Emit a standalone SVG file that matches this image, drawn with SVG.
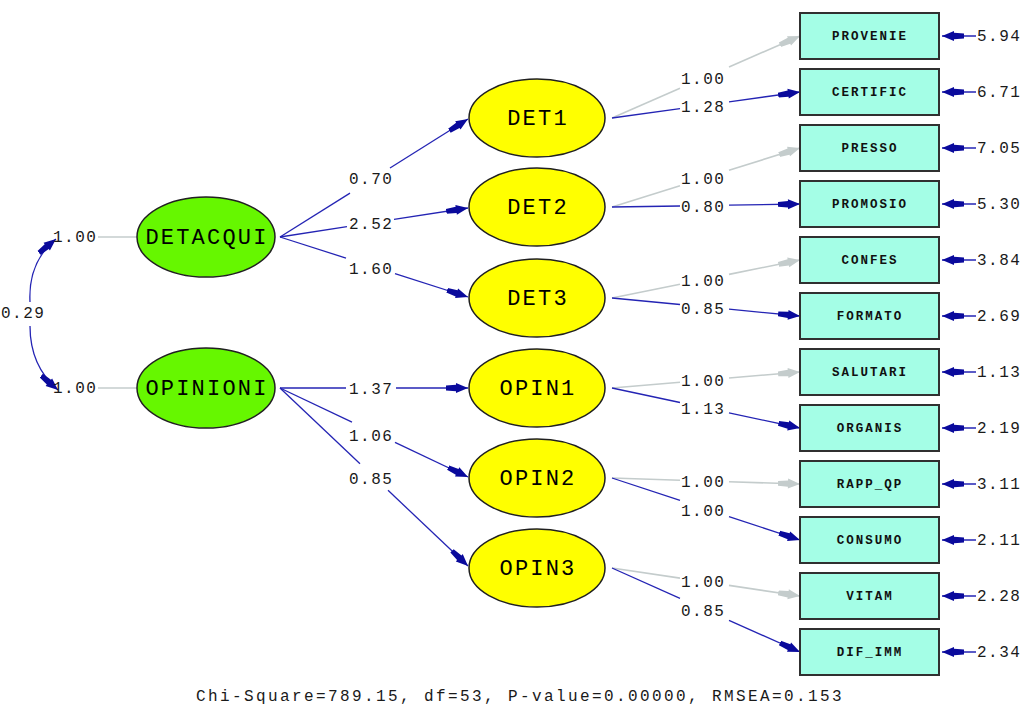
<svg xmlns="http://www.w3.org/2000/svg" width="1028" height="707" viewBox="0 0 1028 707">
  <defs>
    <style>
      .num { font-family: "Liberation Mono", "DejaVu Sans Mono", monospace; font-size: 16px; letter-spacing: 1.5px; fill: #1a1a1a; dominant-baseline: central; }
      .lat { font-family: "Liberation Mono", "DejaVu Sans Mono", monospace; font-size: 22px; letter-spacing: 2.2px; fill: #000; text-anchor: middle; dominant-baseline: central; }
      .obs { font-family: "Liberation Mono", "DejaVu Sans Mono", monospace; font-size: 12.5px; font-weight: bold; letter-spacing: 2px; fill: #101010; text-anchor: middle; dominant-baseline: central; }
      .ksi { fill: #66f700; stroke: #202020; stroke-width: 1.5; }
      .eta { fill: #ffff00; stroke: #202020; stroke-width: 1.5; }
      .box { fill: #a4fee6; stroke: #303030; stroke-width: 2; }
      .free { stroke: #2424b4; stroke-width: 1.3; fill: none; }
      .fixed { stroke: #c4cccc; stroke-width: 1.6; fill: none; }
    </style>
    <marker id="headBlue" markerUnits="userSpaceOnUse" markerWidth="22" markerHeight="12" viewBox="0 0 22 12" refX="22" refY="6" orient="auto-start-reverse">
      <path d="M0,3.6 L10,2.8 L10,1 L22,6 L10,11 L10,9.2 L0,8.4 Z" fill="#0a0a9c"/>
    </marker>
    <marker id="headGray" markerUnits="userSpaceOnUse" markerWidth="22" markerHeight="12" viewBox="0 0 22 12" refX="22" refY="6" orient="auto">
      <path d="M0,3.6 L10,2.8 L10,1 L22,6 L10,11 L10,9.2 L0,8.4 Z" fill="#c4cccc"/>
    </marker>
  </defs>

  <rect width="1028" height="707" fill="#ffffff"/>

  <!-- paths, covariance and parameter estimates -->
  <g id="connectors">
    <!-- covariance between the two exogenous factors -->
    <path class="free" d="M56,239 Q28,262 30,302" marker-start="url(#headBlue)"/>
    <path class="free" d="M30,326 Q30,366 58,390" marker-end="url(#headBlue)"/>
    <text class="num" x="1" y="314">0.29</text>

    <!-- fixed factor variances -->
    <line class="fixed" x1="98" y1="237" x2="137" y2="237"/>
    <line class="fixed" x1="98" y1="388" x2="137" y2="388"/>
    <text class="num" x="53" y="238">1.00</text>
    <text class="num" x="53" y="389">1.00</text>

    <!-- DETACQUI -> DET1..DET3 -->
    <line class="free" x1="280" y1="237" x2="350" y2="193.1"/>
    <line class="free" x1="390" y1="168" x2="468" y2="119" marker-end="url(#headBlue)"/>
    <line class="free" x1="280" y1="237" x2="347" y2="226.7"/>
    <line class="free" x1="394" y1="219.4" x2="468" y2="208" marker-end="url(#headBlue)"/>
    <line class="free" x1="280" y1="237" x2="346" y2="258.1"/>
    <line class="free" x1="395" y1="273.7" x2="468" y2="297" marker-end="url(#headBlue)"/>
    <text class="num" x="349" y="180">0.70</text>
    <text class="num" x="349" y="225">2.52</text>
    <text class="num" x="349" y="270">1.60</text>

    <!-- OPINIONI -> OPIN1..OPIN3 -->
    <line class="free" x1="280" y1="388" x2="346" y2="388"/>
    <line class="free" x1="396" y1="388" x2="468" y2="388" marker-end="url(#headBlue)"/>
    <line class="free" x1="280" y1="388" x2="352" y2="422.1"/>
    <line class="free" x1="395" y1="442.4" x2="468" y2="477" marker-end="url(#headBlue)"/>
    <line class="free" x1="280" y1="388" x2="360" y2="463.7"/>
    <line class="free" x1="388" y1="490.3" x2="468" y2="566" marker-end="url(#headBlue)"/>
    <text class="num" x="349" y="390">1.37</text>
    <text class="num" x="349" y="437">1.06</text>
    <text class="num" x="349" y="480">0.85</text>

    <!-- loadings on the indicators -->
    <line class="fixed" x1="612" y1="118" x2="680" y2="88.3"/>
    <line class="fixed" x1="729" y1="67" x2="800" y2="36" marker-end="url(#headGray)"/>
    <line class="free" x1="612" y1="118" x2="680" y2="108.6"/>
    <line class="free" x1="729" y1="101.8" x2="800" y2="92" marker-end="url(#headBlue)"/>
    <text class="num" x="681" y="80">1.00</text>
    <text class="num" x="681" y="108">1.28</text>

    <line class="fixed" x1="612" y1="207" x2="680" y2="185.7"/>
    <line class="fixed" x1="729" y1="170.3" x2="800" y2="148" marker-end="url(#headGray)"/>
    <line class="free" x1="612" y1="207" x2="680" y2="206"/>
    <line class="free" x1="729" y1="205.1" x2="800" y2="204" marker-end="url(#headBlue)"/>
    <text class="num" x="681" y="180">1.00</text>
    <text class="num" x="681" y="208">0.80</text>

    <line class="fixed" x1="612" y1="298" x2="680" y2="284.3"/>
    <line class="fixed" x1="729" y1="274.4" x2="800" y2="260" marker-end="url(#headGray)"/>
    <line class="free" x1="612" y1="298" x2="680" y2="304.5"/>
    <line class="free" x1="729" y1="309.2" x2="800" y2="316" marker-end="url(#headBlue)"/>
    <text class="num" x="681" y="282">1.00</text>
    <text class="num" x="681" y="310">0.85</text>

    <line class="fixed" x1="612" y1="388" x2="680" y2="382.2"/>
    <line class="fixed" x1="729" y1="378" x2="800" y2="372" marker-end="url(#headGray)"/>
    <line class="free" x1="612" y1="388" x2="680" y2="402.5"/>
    <line class="free" x1="729" y1="412.9" x2="800" y2="428" marker-end="url(#headBlue)"/>
    <text class="num" x="681" y="382">1.00</text>
    <text class="num" x="681" y="410">1.13</text>

    <line class="fixed" x1="612" y1="478" x2="680" y2="480.2"/>
    <line class="fixed" x1="729" y1="481.7" x2="800" y2="484" marker-end="url(#headGray)"/>
    <line class="free" x1="612" y1="478" x2="680" y2="500.4"/>
    <line class="free" x1="729" y1="516.6" x2="800" y2="540" marker-end="url(#headBlue)"/>
    <text class="num" x="681" y="483">1.00</text>
    <text class="num" x="681" y="512">1.00</text>

    <line class="fixed" x1="612" y1="568" x2="680" y2="578.1"/>
    <line class="fixed" x1="729" y1="585.4" x2="800" y2="596" marker-end="url(#headGray)"/>
    <line class="free" x1="612" y1="568" x2="680" y2="598.4"/>
    <line class="free" x1="729" y1="620.3" x2="800" y2="652" marker-end="url(#headBlue)"/>
    <text class="num" x="681" y="583">1.00</text>
    <text class="num" x="681" y="612">0.85</text>

    <!-- measurement error variances -->
    <g>
      <line class="free" x1="976" y1="36" x2="942" y2="36" marker-end="url(#headBlue)"/>
      <line class="free" x1="976" y1="92" x2="942" y2="92" marker-end="url(#headBlue)"/>
      <line class="free" x1="976" y1="148" x2="942" y2="148" marker-end="url(#headBlue)"/>
      <line class="free" x1="976" y1="204" x2="942" y2="204" marker-end="url(#headBlue)"/>
      <line class="free" x1="976" y1="260" x2="942" y2="260" marker-end="url(#headBlue)"/>
      <line class="free" x1="976" y1="316" x2="942" y2="316" marker-end="url(#headBlue)"/>
      <line class="free" x1="976" y1="372" x2="942" y2="372" marker-end="url(#headBlue)"/>
      <line class="free" x1="976" y1="428" x2="942" y2="428" marker-end="url(#headBlue)"/>
      <line class="free" x1="976" y1="484" x2="942" y2="484" marker-end="url(#headBlue)"/>
      <line class="free" x1="976" y1="540" x2="942" y2="540" marker-end="url(#headBlue)"/>
      <line class="free" x1="976" y1="596" x2="942" y2="596" marker-end="url(#headBlue)"/>
      <line class="free" x1="976" y1="652" x2="942" y2="652" marker-end="url(#headBlue)"/>
    </g>
    <text class="num" x="977" y="37">5.94</text>
    <text class="num" x="977" y="93">6.71</text>
    <text class="num" x="977" y="149">7.05</text>
    <text class="num" x="977" y="205">5.30</text>
    <text class="num" x="977" y="261">3.84</text>
    <text class="num" x="977" y="317">2.69</text>
    <text class="num" x="977" y="373">1.13</text>
    <text class="num" x="977" y="429">2.19</text>
    <text class="num" x="977" y="485">3.11</text>
    <text class="num" x="977" y="541">2.11</text>
    <text class="num" x="977" y="597">2.28</text>
    <text class="num" x="977" y="653">2.34</text>
  </g>

  <!-- exogenous latent factors -->
  <g id="DETACQUI"><ellipse class="ksi" cx="206" cy="237" rx="69" ry="40"/><text class="lat" x="207" y="238">DETACQUI</text></g>
  <g id="OPINIONI"><ellipse class="ksi" cx="206" cy="388" rx="69" ry="40"/><text class="lat" x="207" y="389">OPINIONI</text></g>

  <!-- endogenous latent factors -->
  <g id="DET1"><ellipse class="eta" cx="537" cy="118" rx="68" ry="39"/><text class="lat" x="538" y="119">DET1</text></g>
  <g id="DET2"><ellipse class="eta" cx="537" cy="207" rx="68" ry="39"/><text class="lat" x="538" y="208">DET2</text></g>
  <g id="DET3"><ellipse class="eta" cx="537" cy="298" rx="68" ry="39"/><text class="lat" x="538" y="299">DET3</text></g>
  <g id="OPIN1"><ellipse class="eta" cx="537" cy="388" rx="68" ry="39"/><text class="lat" x="538" y="389">OPIN1</text></g>
  <g id="OPIN2"><ellipse class="eta" cx="537" cy="478" rx="68" ry="39"/><text class="lat" x="538" y="479">OPIN2</text></g>
  <g id="OPIN3"><ellipse class="eta" cx="537" cy="568" rx="68" ry="39"/><text class="lat" x="538" y="569">OPIN3</text></g>

  <!-- observed indicators -->
  <g id="PROVENIE"><rect class="box" x="800" y="13" width="139" height="46"/><text class="obs" x="870" y="37">PROVENIE</text></g>
  <g id="CERTIFIC"><rect class="box" x="800" y="69" width="139" height="46"/><text class="obs" x="870" y="93">CERTIFIC</text></g>
  <g id="PRESSO"><rect class="box" x="800" y="125" width="139" height="46"/><text class="obs" x="870" y="149">PRESSO</text></g>
  <g id="PROMOSIO"><rect class="box" x="800" y="181" width="139" height="46"/><text class="obs" x="870" y="205">PROMOSIO</text></g>
  <g id="CONFES"><rect class="box" x="800" y="237" width="139" height="46"/><text class="obs" x="870" y="261">CONFES</text></g>
  <g id="FORMATO"><rect class="box" x="800" y="293" width="139" height="46"/><text class="obs" x="870" y="317">FORMATO</text></g>
  <g id="SALUTARI"><rect class="box" x="800" y="349" width="139" height="46"/><text class="obs" x="870" y="373">SALUTARI</text></g>
  <g id="ORGANIS"><rect class="box" x="800" y="405" width="139" height="46"/><text class="obs" x="870" y="429">ORGANIS</text></g>
  <g id="RAPP_QP"><rect class="box" x="800" y="461" width="139" height="46"/><text class="obs" x="870" y="485">RAPP_QP</text></g>
  <g id="CONSUMO"><rect class="box" x="800" y="517" width="139" height="46"/><text class="obs" x="870" y="541">CONSUMO</text></g>
  <g id="VITAM"><rect class="box" x="800" y="573" width="139" height="46"/><text class="obs" x="870" y="597">VITAM</text></g>
  <g id="DIF_IMM"><rect class="box" x="800" y="629" width="139" height="46"/><text class="obs" x="870" y="653">DIF_IMM</text></g>

  <!-- fit statistics -->
  <text class="num" x="196" y="697" textLength="647" lengthAdjust="spacing">Chi-Square=789.15, df=53, P-value=0.00000, RMSEA=0.153</text>
</svg>
